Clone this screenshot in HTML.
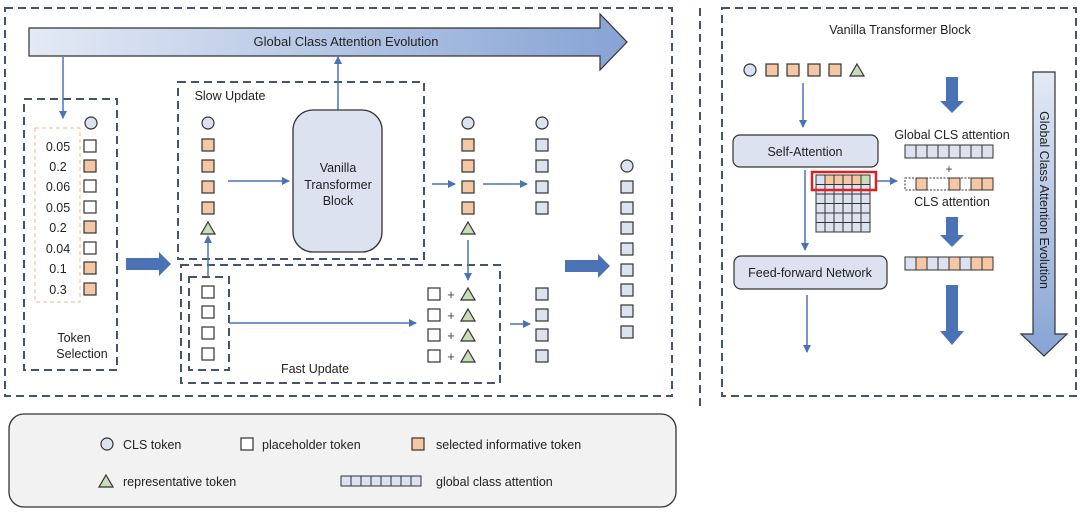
<!DOCTYPE html>
<html><head><meta charset="utf-8"><style>
html,body{margin:0;padding:0;background:#fff;}
svg{display:block;font-family:"Liberation Sans",sans-serif;}
</style></head><body>
<svg width="1080" height="513" viewBox="0 0 1080 513" xmlns="http://www.w3.org/2000/svg">
<defs>
<linearGradient id="gh" x1="0" y1="0" x2="1" y2="0"><stop offset="0" stop-color="#e4eaf5"/><stop offset="1" stop-color="#86a3d4"/></linearGradient>
<linearGradient id="gv" x1="0" y1="0" x2="0" y2="1"><stop offset="0" stop-color="#e4eaf5"/><stop offset="1" stop-color="#86a3d4"/></linearGradient>
<marker id="a" markerWidth="8" markerHeight="8" refX="7" refY="4" orient="auto" markerUnits="userSpaceOnUse"><path d="M0,0 L8,4 L0,8 z" fill="#4a72b5"/></marker>
<g id="sq"><rect x="-6" y="-6" width="12" height="12" fill="#fff" stroke="#333" stroke-width="1.2"/></g>
<g id="so"><rect x="-6" y="-6" width="12" height="12" fill="#f6c7a4" stroke="#333" stroke-width="1.2"/></g>
<g id="sl"><rect x="-6" y="-6" width="12" height="12" fill="#dce2f0" stroke="#333" stroke-width="1.2"/></g>
<g id="ci"><circle r="6" fill="#dce2f0" stroke="#333" stroke-width="1.2"/></g>
<g id="tr"><path d="M0,-6 L7,6 L-7,6 z" fill="#c8dcb8" stroke="#333" stroke-width="1.2"/></g>
</defs>
<g fill="none" stroke="#44546a" stroke-width="2" stroke-dasharray="8,5">
<rect x="5" y="8" width="667" height="388"/>
<rect x="722" y="8" width="354" height="388"/>
<line x1="700" y1="8" x2="700" y2="406"/>
<rect x="24" y="99" width="93" height="271"/>
<rect x="178" y="82" width="246" height="177"/>
<rect x="181" y="265" width="319" height="118"/>
<rect x="189" y="277" width="40" height="93"/>
</g>
<rect x="35" y="128" width="45" height="174" fill="none" stroke="#f0c8a0" stroke-width="1.2" stroke-dasharray="4,3"/>
<!-- top arrow -->
<path d="M29,28 L600,28 L600,14 L627,42 L600,70 L600,56 L29,56 z" fill="url(#gh)" stroke="#333" stroke-width="1.2"/>
<text x="346" y="46" font-size="13" text-anchor="middle" fill="#222">Global Class Attention Evolution</text>
<g stroke="#4a72b5" stroke-width="1.5" fill="none" marker-end="url(#a)">
<line x1="63" y1="57" x2="63" y2="118"/>
<line x1="338" y1="110" x2="338" y2="57"/>
<line x1="228" y1="181" x2="289" y2="181"/>
<line x1="208" y1="277" x2="208" y2="236"/>
<line x1="229" y1="323" x2="416" y2="323"/>
<line x1="432" y1="184" x2="455" y2="184"/>
<line x1="483" y1="184" x2="527" y2="184"/>
<line x1="468" y1="240" x2="468" y2="280"/>
<line x1="510" y1="324" x2="530" y2="324"/>
<line x1="803" y1="83" x2="803" y2="127"/>
<line x1="805" y1="170" x2="805" y2="250"/>
<line x1="807" y1="295" x2="807" y2="352"/>
<line x1="877" y1="181" x2="897" y2="181"/>
</g>
<!-- thick arrows -->
<g fill="#4a72b5">
<path d="M126,258 L159,258 L159,252 L171,264 L159,276 L159,270 L126,270 z"/>
<path d="M565,260 L598,260 L598,254 L610,266 L598,278 L598,272 L565,272 z"/>
<path d="M946,77 L958,77 L958,101 L964,101 L952,113 L940,101 L946,101 z"/>
<path d="M946,217 L958,217 L958,235 L964,235 L952,247 L940,235 L946,235 z"/>
<path d="M946,285 L958,285 L958,331 L964,331 L952,345 L940,331 L946,331 z"/>
</g>
<!-- token selection -->
<use href="#ci" x="91" y="123"/>
<g font-size="12.5" text-anchor="middle" fill="#222">
<text x="58" y="151">0.05</text><text x="58" y="171">0.2</text><text x="58" y="191">0.06</text><text x="58" y="212">0.05</text><text x="58" y="232">0.2</text><text x="58" y="253">0.04</text><text x="58" y="273">0.1</text><text x="58" y="294">0.3</text>
<text x="74" y="342">Token</text><text x="82" y="358">Selection</text>
</g>
<use href="#sq" x="90" y="146"/><use href="#so" x="90" y="166"/><use href="#sq" x="90" y="186"/><use href="#sq" x="90" y="207"/><use href="#so" x="90" y="227"/><use href="#sq" x="90" y="248"/><use href="#so" x="90" y="268"/><use href="#so" x="90" y="289"/>
<!-- slow update -->
<text x="230" y="100" font-size="12.5" text-anchor="middle" fill="#222">Slow Update</text>
<use href="#ci" x="208" y="123"/><use href="#so" x="208" y="145"/><use href="#so" x="208" y="166"/><use href="#so" x="208" y="187"/><use href="#so" x="208" y="208"/><use href="#tr" x="208" y="228"/>
<rect x="293" y="110" width="89" height="142" rx="20" fill="#dce2f0" stroke="#333" stroke-width="1.3"/>
<g font-size="12.5" text-anchor="middle" fill="#222"><text x="338" y="172">Vanilla</text><text x="338" y="189">Transformer</text><text x="338" y="205">Block</text></g>
<use href="#ci" x="468" y="123"/><use href="#so" x="468" y="145"/><use href="#so" x="468" y="166"/><use href="#so" x="468" y="187"/><use href="#so" x="468" y="208"/><use href="#tr" x="468" y="228"/>
<use href="#ci" x="542" y="123"/><use href="#sl" x="542" y="145"/><use href="#sl" x="542" y="166"/><use href="#sl" x="542" y="187"/><use href="#sl" x="542" y="208"/>
<!-- fast update -->
<use href="#sq" x="208" y="292"/><use href="#sq" x="208" y="312"/><use href="#sq" x="208" y="333"/><use href="#sq" x="208" y="354"/>
<g font-size="13" fill="#444" text-anchor="middle"><text x="451" y="299">+</text><text x="451" y="320">+</text><text x="451" y="340">+</text><text x="451" y="361">+</text></g>
<use href="#sq" x="434" y="294"/><use href="#sq" x="434" y="315"/><use href="#sq" x="434" y="335"/><use href="#sq" x="434" y="356"/>
<use href="#tr" x="468" y="294"/><use href="#tr" x="468" y="315"/><use href="#tr" x="468" y="335"/><use href="#tr" x="468" y="356"/>
<use href="#sl" x="542" y="294"/><use href="#sl" x="542" y="315"/><use href="#sl" x="542" y="335"/><use href="#sl" x="542" y="356"/>
<text x="315" y="373" font-size="12.5" text-anchor="middle" fill="#222">Fast Update</text>
<use href="#ci" x="627" y="166"/>
<use href="#sl" x="627" y="187"/><use href="#sl" x="627" y="208"/><use href="#sl" x="627" y="228"/><use href="#sl" x="627" y="249"/><use href="#sl" x="627" y="270"/><use href="#sl" x="627" y="290"/><use href="#sl" x="627" y="311"/><use href="#sl" x="627" y="332"/>
<!-- legend -->
<rect x="9" y="414" width="667" height="93" rx="15" fill="#f2f2f2" stroke="#333" stroke-width="1.3"/>
<g font-size="12.5" fill="#222">
<use href="#ci" x="107" y="444"/><text x="123" y="449">CLS token</text>
<use href="#sq" x="247" y="444"/><text x="262" y="449">placeholder token</text>
<use href="#so" x="418" y="444"/><text x="436" y="449">selected informative token</text>
<use href="#tr" x="106" y="481"/><text x="123" y="486">representative token</text>
<text x="436" y="486">global class attention</text>
</g>
<g fill="#dce2f0" stroke="#333" stroke-width="1">
<rect x="341" y="476" width="10" height="10"/><rect x="351" y="476" width="10" height="10"/><rect x="361" y="476" width="10" height="10"/><rect x="371" y="476" width="10" height="10"/><rect x="381" y="476" width="10" height="10"/><rect x="391" y="476" width="10" height="10"/><rect x="401" y="476" width="10" height="10"/><rect x="411" y="476" width="10" height="10"/>
</g>
<!-- right panel -->
<text x="900" y="34" font-size="12.5" text-anchor="middle" fill="#222">Vanilla Transformer Block</text>
<use href="#ci" x="750" y="70"/><use href="#so" x="772" y="70"/><use href="#so" x="793" y="70"/><use href="#so" x="814" y="70"/><use href="#so" x="835" y="70"/><use href="#tr" x="857" y="70"/>
<rect x="733" y="135" width="145" height="32" rx="7" fill="#dce2f0" stroke="#333" stroke-width="1.2"/>
<text x="805" y="156" font-size="12.5" text-anchor="middle" fill="#222">Self-Attention</text>
<rect x="734" y="256" width="153" height="33" rx="7" fill="#dce2f0" stroke="#333" stroke-width="1.2"/>
<text x="810" y="277" font-size="12.5" text-anchor="middle" fill="#222">Feed-forward Network</text>
<!-- matrix -->
<g stroke="#333" stroke-width="1">
<rect x="816" y="175" width="54" height="57" fill="#dce2f0"/>
<rect x="825" y="175" width="36" height="9.5" fill="#f6c7a4"/>
<rect x="861" y="175" width="9" height="9.5" fill="#c8dcb8"/>
<path d="M825,175V232M834,175V232M843,175V232M852,175V232M861,175V232M816,184.5H870M816,194H870M816,203.5H870M816,213H870M816,222.5H870" fill="none"/>
</g>
<rect x="812" y="172" width="64" height="18" fill="none" stroke="#e02020" stroke-width="2.5"/>
<text x="952" y="139" font-size="12.5" text-anchor="middle" fill="#222">Global CLS attention</text>
<g stroke="#333" stroke-width="1">
<rect x="905" y="145" width="88" height="13" fill="#dce2f0"/>
<path d="M916,145V158M927,145V158M938,145V158M949,145V158M960,145V158M971,145V158M982,145V158" fill="none"/>
</g>
<text x="949" y="173" font-size="12" text-anchor="middle" fill="#444">+</text>
<g stroke="#333" stroke-width="1">
<rect x="905" y="178" width="88" height="12" fill="none" stroke-dasharray="2,1.5"/>
<rect x="916" y="178" width="11" height="12" fill="#f6c7a4"/>
<rect x="949" y="178" width="11" height="12" fill="#f6c7a4"/>
<rect x="971" y="178" width="11" height="12" fill="#f6c7a4"/>
<rect x="982" y="178" width="11" height="12" fill="#f6c7a4"/>
</g>
<text x="952" y="206" font-size="12.5" text-anchor="middle" fill="#222">CLS attention</text>
<g stroke="#333" stroke-width="1">
<rect x="905" y="257" width="88" height="13" fill="#dce2f0"/>
<rect x="916" y="257" width="11" height="13" fill="#f6c7a4"/>
<rect x="949" y="257" width="11" height="13" fill="#f6c7a4"/>
<rect x="971" y="257" width="11" height="13" fill="#f6c7a4"/>
<rect x="982" y="257" width="11" height="13" fill="#f6c7a4"/>
<path d="M916,257V270M927,257V270M938,257V270M949,257V270M960,257V270M971,257V270M982,257V270" fill="none"/>
</g>
<path d="M1033,72 L1055,72 L1055,334 L1067,334 L1044,356 L1021,334 L1033,334 z" fill="url(#gv)" stroke="#333" stroke-width="1.2"/>
<text x="0" y="0" font-size="12.5" text-anchor="middle" fill="#222" transform="translate(1040,200) rotate(90)">Global Class Attention Evolution</text>
</svg>
</body></html>
